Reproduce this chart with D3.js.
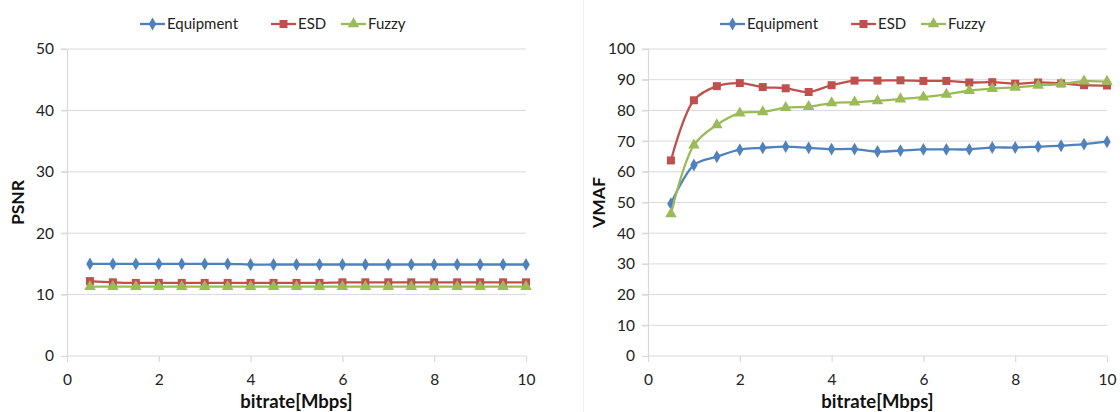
<!DOCTYPE html>
<html>
<head>
<meta charset="utf-8">
<script src="https://cdn.jsdelivr.net/npm/d3@7"></script>
<style>
  body { margin: 0; background: #fff; }
  svg { display: block; font-family: Lato, "Liberation Sans", sans-serif; }
</style>
</head>
<body>
<svg id="chart" width="1120" height="412"></svg>
<script>
var bitrate = [0.5, 1, 1.5, 2, 2.5, 3, 3.5, 4, 4.5, 5, 5.5, 6, 6.5, 7, 7.5, 8, 8.5, 9, 9.5, 10];
var seriesNames = ['Equipment', 'ESD', 'Fuzzy'];

var psnrEquipment = [15.0, 15.0, 15.0, 15.0, 15.0, 15.0, 15.0, 14.9, 14.9, 14.9, 14.9, 14.9, 14.9, 14.9, 14.9, 14.9, 14.9, 14.9, 14.9, 14.9];
var psnrESD = [12.2, 12.0, 11.9, 11.9, 11.9, 11.9, 11.9, 11.9, 11.9, 11.9, 11.9, 12.0, 12.0, 12.0, 12.0, 12.0, 12.0, 12.0, 12.0, 12.0];
var psnrFuzzy = [11.3, 11.3, 11.3, 11.3, 11.3, 11.3, 11.3, 11.3, 11.3, 11.3, 11.3, 11.3, 11.3, 11.3, 11.3, 11.3, 11.3, 11.3, 11.3, 11.3];

var vmafEquipment = [49.6, 62.2, 64.9, 67.2, 67.8, 68.2, 67.8, 67.4, 67.4, 66.6, 66.9, 67.3, 67.3, 67.3, 67.9, 67.9, 68.2, 68.5, 69.0, 69.8];
var vmafESD = [63.7, 83.3, 87.9, 88.9, 87.6, 87.2, 86.0, 88.2, 89.7, 89.7, 89.8, 89.6, 89.6, 89.1, 89.2, 88.7, 89.1, 88.8, 88.2, 88.1];
var vmafFuzzy = [46.3, 68.7, 75.3, 79.1, 79.5, 80.9, 81.2, 82.4, 82.7, 83.1, 83.7, 84.3, 85.2, 86.4, 87.1, 87.5, 88.1, 88.6, 89.5, 89.4];

var xTicks = [0, 2, 4, 6, 8, 10];
var psnrTicks = [0, 10, 20, 30, 40, 50];
var vmafTicks = [0, 10, 20, 30, 40, 50, 60, 70, 80, 90, 100];

var colors = ['#4F81BD', '#C0504D', '#9BBB59'];
var symbols = [d3.symbolDiamond, d3.symbolSquare, d3.symbolTriangle];
var symbolSizes = [48, 64, 58];

var svg = d3.select('#chart');

// faint border of the second chart area
svg.append('line')
  .attr('x1', 583.5).attr('x2', 583.5).attr('y1', 0).attr('y2', 412)
  .attr('stroke', '#f0f0f0');

function drawChart(cfg) {
  var x = d3.scaleLinear().domain([0, 10]).range([cfg.left, cfg.right]);
  var y = d3.scaleLinear().domain([0, cfg.max]).range([356, 49]);

  var g = svg.append('g');

  // gridlines
  g.append('g').selectAll('line')
    .data(cfg.ticks.filter(d => d > 0))
    .enter().append('line')
    .attr('x1', cfg.left - 6).attr('x2', cfg.right)
    .attr('y1', d => y(d)).attr('y2', d => y(d))
    .attr('stroke', '#d9d9d9').attr('stroke-width', 1);

  var yAxis = g.append('g')
    .attr('transform', 'translate(' + cfg.left + ',0)')
    .call(d3.axisLeft(y).tickValues(cfg.ticks).tickSize(6).tickPadding(7));
  var xAxis = g.append('g')
    .attr('transform', 'translate(0,' + y(0) + ')')
    .call(d3.axisBottom(x).tickValues(xTicks).tickSize(6).tickPadding(12));

  [xAxis, yAxis].forEach(function (a) {
    a.select('.domain').attr('stroke', '#d9d9d9').attr('stroke-width', 1.2);
    a.selectAll('.tick line').attr('stroke', '#d9d9d9').attr('stroke-width', 1.2);
    a.selectAll('text').attr('font-size', 15.5).attr('fill', '#222').attr('font-family', 'Lato, sans-serif');
  });
  xAxis.select('.domain').attr('d', 'M' + cfg.left + ',0H' + cfg.right);

  g.append('text')
    .attr('x', (cfg.left + cfg.right) / 2).attr('y', 408)
    .attr('text-anchor', 'middle')
    .attr('font-size', 18.5).attr('font-weight', 'bold').attr('fill', '#111')
    .text('bitrate[Mbps]');

  g.append('text')
    .attr('transform', 'translate(' + cfg.titleX + ',' + y(cfg.max / 2) + ')rotate(-90)')
    .attr('text-anchor', 'middle').attr('dy', '0.35em')
    .attr('font-size', 17.5).attr('font-weight', 'bold').attr('fill', '#111')
    .text(cfg.title);

  var line = d3.line()
    .x((d, i) => x(bitrate[i]))
    .y(d => y(d))
    .curve(d3.curveCatmullRom.alpha(0.5));

  cfg.series.forEach(function (vals, k) {
    var s = g.append('g');
    s.append('path')
      .attr('d', line(vals))
      .attr('fill', 'none')
      .attr('stroke', colors[k])
      .attr('stroke-width', 2.3);
    s.selectAll('path.mark')
      .data(vals)
      .enter().append('path')
      .attr('class', 'mark')
      .attr('transform', (d, i) => 'translate(' + x(bitrate[i]) + ',' + y(d) + ')')
      .attr('d', d3.symbol().type(symbols[k]).size(symbolSizes[k]))
      .attr('fill', colors[k]);
  });

  // legend
  var leg = g.append('g').attr('transform', 'translate(0,24)');
  var pos = cfg.legendX;
  seriesNames.forEach(function (name, k) {
    var item = leg.append('g').attr('transform', 'translate(' + pos[k] + ',0)');
    item.append('line')
      .attr('x1', 0).attr('x2', 25)
      .attr('stroke', colors[k]).attr('stroke-width', 2.3);
    item.append('path')
      .attr('transform', 'translate(12.5,0)')
      .attr('d', d3.symbol().type(symbols[k]).size(symbolSizes[k]))
      .attr('fill', colors[k]);
    item.append('text')
      .attr('x', 27).attr('dy', '0.35em')
      .attr('font-size', 15).attr('fill', '#222')
      .text(name);
  });
}

drawChart({
  left: 67, right: 526, max: 50, ticks: psnrTicks, title: 'PSNR', titleX: 18,
  series: [psnrEquipment, psnrESD, psnrFuzzy],
  legendX: [140, 271, 341]
});

drawChart({
  left: 648, right: 1107, max: 100, ticks: vmafTicks, title: 'VMAF', titleX: 599,
  series: [vmafEquipment, vmafESD, vmafFuzzy],
  legendX: [720, 851, 921]
});
</script>
</body>
</html>
